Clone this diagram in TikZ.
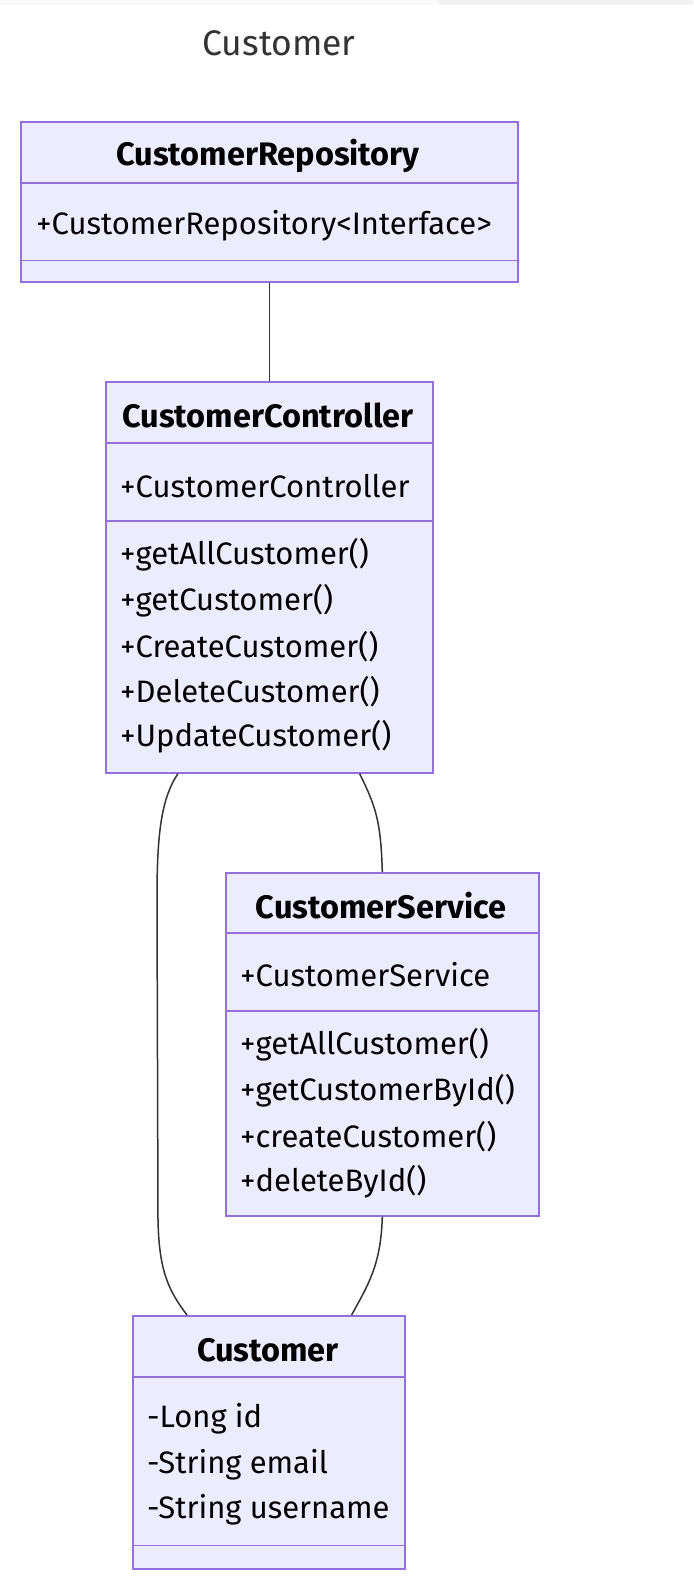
\documentclass[tikz,border=0pt]{standalone}
\usepackage{xcolor}
\usepackage{fontspec}
\setmainfont{Fira Sans}

\definecolor{boxfill}{HTML}{ECECFF}
\definecolor{boxline}{HTML}{9370DB}
\definecolor{linkline}{HTML}{333333}

\tikzset{
  classbox/.style={draw=boxline, fill=boxfill, line width=1.6pt, anchor=north west, inner sep=0pt},
  divider/.style={draw=boxline, line width=1.6pt},
  classname/.style={font=\fontsize{32.5}{36}\selectfont\bfseries, text=black},
  member/.style={font=\fontsize{31}{36}\selectfont, anchor=west, inner sep=0pt, text=black},
  link/.style={draw=linkline, line width=1.5pt}
}

\begin{document}
\begin{tikzpicture}[x=1pt, y=-1pt]
                \useasboundingbox (0,0) rectangle (693,1581);
                \fill[gray!5] (0,0) rectangle (439,5);
                \fill[gray!10] (439,0) rectangle (693,5);

                \node[font=\fontsize{35.5}{40}\selectfont, text=linkline] (title) at (279,43) {Customer};

                % CustomerRepository
                \node[classbox, minimum width=497pt, minimum height=160pt] (repo) at (20,121) {};
                \draw[divider] ([yshift=-62pt]repo.north west) -- ([yshift=-62pt]repo.north east);
                \draw[divider] ([yshift=22pt]repo.south west) -- ([yshift=22pt]repo.south east);
                \node[classname] (reponame) at (268,156) {CustomerRepository};
                \node[member] (repoattr) at (36,226) {+CustomerRepository<Interface>};

                % CustomerController
                \node[classbox, minimum width=327pt, minimum height=391pt] (ctrl) at (105,381) {};
                \draw[divider] ([yshift=-62pt]ctrl.north west) -- ([yshift=-62pt]ctrl.north east);
                \draw[divider] ([yshift=-140pt]ctrl.north west) -- ([yshift=-140pt]ctrl.north east);
                \node[classname] (ctrlname) at (268,415) {CustomerController};
                \node[member] (ctrlattr) at (120,486) {+CustomerController};
                \node[member] (ctrlm1) at (120,555) {+getAllCustomer()};
                \node[member] (ctrlm2) at (120,601) {+getCustomer()};
                \node[member] (ctrlm3) at (120,647) {+CreateCustomer()};
                \node[member] (ctrlm4) at (120,692) {+DeleteCustomer()};
                \node[member] (ctrlm5) at (120,737) {+UpdateCustomer()};

                % CustomerService
                \node[classbox, minimum width=313pt, minimum height=343pt] (serv) at (225,872) {};
                \draw[divider] ([yshift=-61pt]serv.north west) -- ([yshift=-61pt]serv.north east);
                \draw[divider] ([yshift=-139pt]serv.north west) -- ([yshift=-139pt]serv.north east);
                \node[classname] (servname) at (381,906) {CustomerService};
                \node[member] (servattr) at (240,975) {+CustomerService};
                \node[member] (servm1) at (240,1045) {+getAllCustomer()};
                \node[member] (servm2) at (240,1091) {+getCustomerById()};
                \node[member] (servm3) at (240,1137) {+createCustomer()};
                \node[member] (servm4) at (240,1182) {+deleteById()};

                % Customer
                \node[classbox, minimum width=272pt, minimum height=253pt] (cust) at (132,1315) {};
                \draw[divider] ([yshift=-62pt]cust.north west) -- ([yshift=-62pt]cust.north east);
                \draw[divider] ([yshift=24pt]cust.south west) -- ([yshift=24pt]cust.south east);
                \node[classname] (custname) at (268,1350) {Customer};
                \node[member] (custa1) at (147,1419) {-Long id};
                \node[member] (custa2) at (147,1465) {-String email};
                \node[member] (custa3) at (147,1510) {-String username};

                % links
                \draw[link] (repo.south) -- (ctrl.north);
                \draw[link] ([xshift=73pt]ctrl.south west) .. controls (160,800) and (157,840) .. (157,900)
                    -- (158,1220) .. controls (159,1270) and (168,1290) .. ([xshift=55pt]cust.north west);
                \draw[link] ([xshift=-74pt]ctrl.south east) .. controls (375,805) and (381,820) .. (serv.north);
                \draw[link] (serv.south) .. controls (381,1265) and (368,1285) .. ([xshift=-54pt]cust.north east);
\end{tikzpicture}
\end{document}
